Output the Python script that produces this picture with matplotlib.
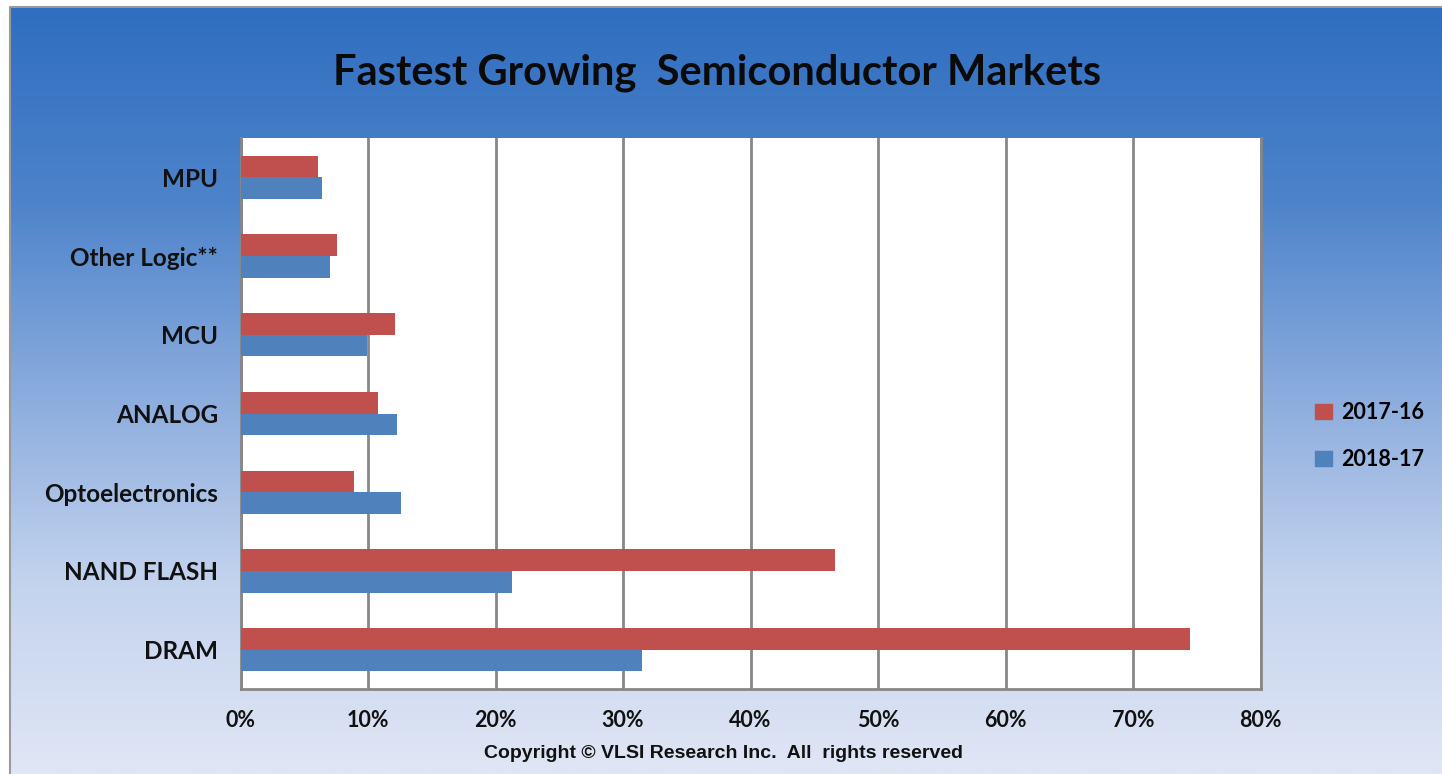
import numpy as np
import matplotlib
matplotlib.use("Agg")
import matplotlib.pyplot as plt
from matplotlib.patches import Patch
from matplotlib.lines import Line2D
from matplotlib.colors import LinearSegmentedColormap
from matplotlib.ticker import MultipleLocator, PercentFormatter

# Market segments, listed top to bottom
categories = ["MPU", "Other Logic**", "MCU", "ANALOG", "Optoelectronics",
              "NAND FLASH", "DRAM"]
# Growth rates in percent
growth_2017_16 = [6.1, 7.6, 12.1, 10.8, 8.9, 46.6, 74.5]
growth_2018_17 = [6.4, 7.0, 9.9, 12.3, 12.6, 21.3, 31.5]
series_labels = ["2017-16", "2018-17"]

RED = "#C0504D"
BLUE = "#4F81BD"
GRID = "#878787"
LABEL_FONT = ["Lato", "DejaVu Sans"]

W, H = 1442, 774
fig = plt.figure(figsize=(W / 100, H / 100), dpi=100)
fig.patch.set_facecolor("white")

# Blue gradient panel behind the chart
bg = fig.add_axes([10 / W, 0, 1 - 10 / W, 1 - 7 / H], zorder=-10)
grad = np.linspace(0, 1, 256).reshape(-1, 1)
cmap = LinearSegmentedColormap.from_list(
    "panel", ["#2F6EC0", "#4D83CA", "#8AABDD", "#C3D3EE", "#E0E6F5"])
bg.imshow(grad, aspect="auto", cmap=cmap, extent=[0, 1, 0, 1], origin="upper")
bg.set_xlim(0, 1)
bg.set_ylim(0, 1)
bg.axis("off")
# thin grey edge along the top and left of the panel
bg.add_line(Line2D([0, 0, 1], [0, 1, 1], transform=bg.transAxes,
                   color="#9A9A9A", linewidth=1.5, clip_on=False))

ax = fig.add_axes([240.5 / W, 85 / H, 1020 / W, 551 / H])
ax.set_facecolor("white")

n = len(categories)
ypos = np.arange(n)[::-1]  # first category at the top
h = 0.275
ax.barh(ypos + h / 2, growth_2017_16, height=h, color=RED, zorder=3,
        label=series_labels[0])
ax.barh(ypos - h / 2, growth_2018_17, height=h, color=BLUE, zorder=3,
        label=series_labels[1])

ax.set_xlim(0, 80)
ax.set_ylim(-0.5, n - 0.5)
ax.xaxis.set_major_locator(MultipleLocator(10))
ax.xaxis.set_major_formatter(PercentFormatter(decimals=0))
ax.grid(axis="x", color=GRID, linewidth=2, zorder=1)
ax.set_yticks(ypos)
ax.set_yticklabels(categories)
ax.tick_params(axis="both", length=0)
ax.tick_params(axis="y", pad=16)
ax.tick_params(axis="x", pad=15)
for lbl in ax.get_yticklabels():
    lbl.set_fontfamily(LABEL_FONT)
    lbl.set_fontweight("bold")
    lbl.set_fontsize(17.5)
    lbl.set_color("#111111")
for lbl in ax.get_xticklabels():
    lbl.set_fontfamily(LABEL_FONT)
    lbl.set_fontweight("bold")
    lbl.set_fontsize(15.5)
    lbl.set_color("#111111")

for side in ["left", "bottom", "right"]:
    ax.spines[side].set_color(GRID)
    ax.spines[side].set_linewidth(2)
ax.spines["top"].set_visible(False)

fig.text(717 / W, 1 - 73 / H, "Fastest Growing  Semiconductor Markets",
         ha="center", va="center", fontsize=30, fontweight="bold",
         family=LABEL_FONT, color="#0A0A0A")

fig.text(724 / W, 1 - 753 / H, "Copyright \u00a9 VLSI Research Inc.  All  rights reserved",
         ha="center", va="center", fontsize=14, fontweight="bold",
         family=["Liberation Sans", "DejaVu Sans"], color="#111111")

handles = [Patch(color=RED), Patch(color=BLUE)]
fig.legend(handles, series_labels, loc="center left",
           bbox_to_anchor=(1296 / W, 1 - 436 / H), frameon=False,
           handlelength=0.75, handleheight=0.75, handletextpad=0.45,
           labelspacing=1.2,
           prop={"family": LABEL_FONT, "weight": "bold", "size": 15.5})

fig.savefig("out.png", dpi=100)
